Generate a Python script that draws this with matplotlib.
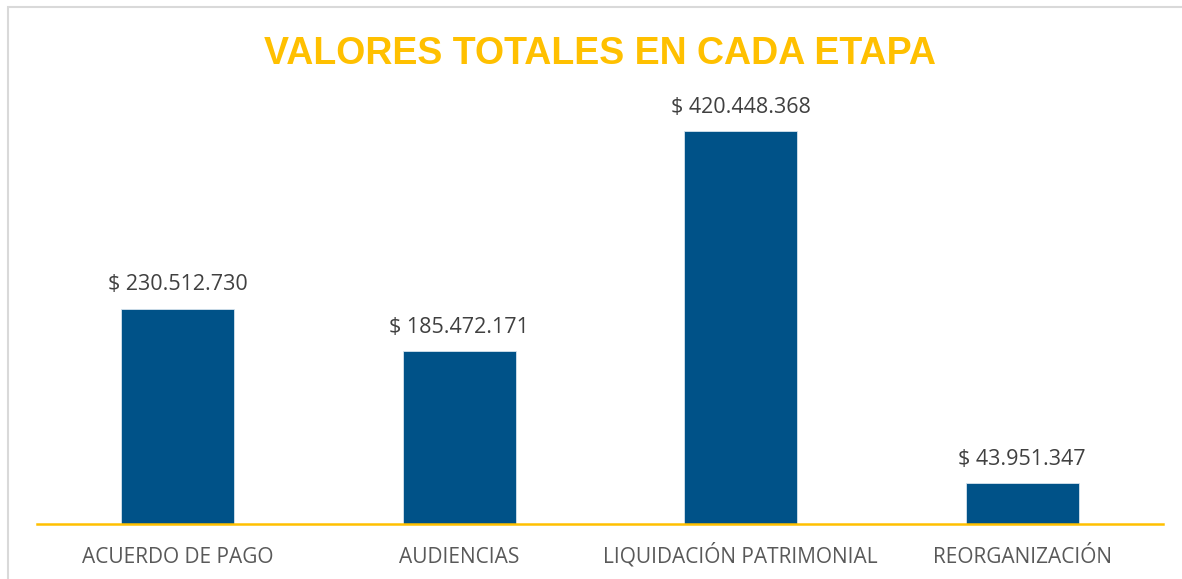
import numpy as np
import matplotlib.pyplot as plt
from matplotlib.patches import Rectangle

etapas = ['ACUERDO DE PAGO', 'AUDIENCIAS', 'LIQUIDACIÓN PATRIMONIAL', 'REORGANIZACIÓN']
valores = [230512730, 185472171, 420448368, 43951347]
etiquetas = ['$ 230.512.730', '$ 185.472.171', '$ 420.448.368', '$ 43.951.347']

W, H = 1182, 579
fig = plt.figure(figsize=(W / 100, H / 100), dpi=100)

# light chart border
fig.patches.append(Rectangle((8 / W, -0.1), 1.2, (H - 7) / H + 0.1,
                             transform=fig.transFigure, fill=False,
                             edgecolor='#d9d9d9', linewidth=1.5))

# axes placed in pixel coords
left, right, base, top = 37, 1163, 524, 103.4
ax = fig.add_axes([left / W, (H - base) / H, (right - left) / W, (base - top) / H])

x = np.arange(len(etapas))
ax.bar(x, valores, width=0.4, color='#005288', edgecolor='#d6e3ee', linewidth=0.6)
ax.set_xlim(-0.5, 3.5)
ax.set_ylim(0, 450e6)

for xi, v, lab in zip(x, valores, etiquetas):
    ax.text(xi, v + 14e6, lab, ha='center', va='bottom',
            fontsize=15.5, color='#404040', family='Open Sans')

for s in ['top', 'right', 'left']:
    ax.spines[s].set_visible(False)
ax.spines['bottom'].set_color('#ffc000')
ax.spines['bottom'].set_linewidth(1.8)
ax.set_yticks([])
ax.set_xticks(x)
ax.set_xticklabels(etapas, fontsize=15, color='#595959', family='Open Sans')
ax.tick_params(axis='x', length=0, pad=28)
for t in ax.get_xticklabels():
    t.set_va('baseline')

fig.text(600 / W, 1 - 54 / H, 'VALORES TOTALES EN CADA ETAPA', ha='center', va='center',
         fontsize=27, fontweight='bold', color='#ffc000', family='Liberation Sans')

fig.savefig('out.png', dpi=100)
